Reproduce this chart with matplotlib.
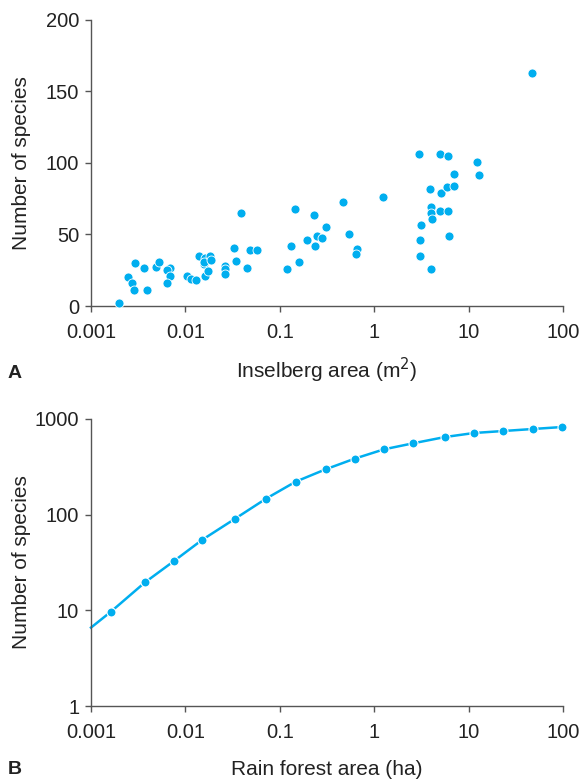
import matplotlib
matplotlib.use("Agg")
import matplotlib.pyplot as plt
from matplotlib.ticker import FixedLocator, FixedFormatter, NullLocator

plt.rcParams['font.family'] = ['Liberation Sans', 'DejaVu Sans']

# Panel A: inselberg area (m^2) vs number of species
inselberg_area = [0.00196, 0.00245, 0.0029, 0.00274, 0.00288, 0.00367, 0.00389, 0.00492,
                  0.0053, 0.00683, 0.00634, 0.00683, 0.00634, 0.0103, 0.0114, 0.0131,
                  0.0140, 0.0160, 0.0157, 0.0159, 0.0181, 0.0187, 0.0161, 0.0175,
                  0.0261, 0.0261, 0.0265, 0.033, 0.0343, 0.0385, 0.045, 0.048, 0.0569,
                  0.118, 0.130, 0.145, 0.160, 0.194, 0.230, 0.234, 0.249, 0.278, 0.308,
                  0.463, 0.544, 0.652, 0.646, 1.23, 2.98, 4.94, 6.01, 12.2, 7.0, 12.9,
                  3.93, 5.06, 5.90, 7.0, 3.96, 4.0, 4.06, 4.94, 6.01, 3.13, 6.19, 3.08,
                  3.03, 4.0, 46.6]
inselberg_species = [2.3, 20.2, 30.2, 15.8, 11.2, 26.7, 11.0, 27.4,
                     30.7, 26.7, 24.9, 21.2, 16.3, 20.7, 19.1, 18.4,
                     34.7, 33.3, 29.1, 30.7, 35.1, 32.1, 20.9, 24.2,
                     27.9, 25.6, 22.5, 40.3, 31.2, 64.7, 26.5, 38.9, 38.9,
                     25.8, 42.1, 67.5, 30.5, 46.3, 63.3, 41.7, 49.3, 47.9, 55.2,
                     72.8, 50.3, 39.6, 36.1, 75.9, 106.6, 106.1, 104.7, 100.5, 92.6, 91.9,
                     81.5, 78.7, 83.3, 84.0, 69.1, 64.9, 60.5, 66.1, 66.5, 56.3, 48.7, 45.9,
                     34.9, 26.0, 163.1]

# Panel B: rain forest area (ha) vs number of species
forest_area = [0.00163, 0.00373, 0.00752, 0.0150, 0.0333, 0.0715, 0.147, 0.306,
               0.621, 1.27, 2.58, 5.62, 11.4, 23.3, 47.8, 98.4]
forest_species = [9.7, 19.6, 32.6, 54.4, 90.2, 147, 221, 298,
                  385, 482, 557, 648, 714, 749, 786, 825]
curve_area = [0.001] + forest_area
curve_species = [6.6] + forest_species

xticks = [0.001, 0.01, 0.1, 1, 10, 100]
xtick_labels = ["0.001", "0.01", "0.1", "1", "10", "100"]
yticks_a = [0, 50, 100, 150, 200]
yticks_b = [1, 10, 100, 1000]
ytick_labels_b = ["1", "10", "100", "1000"]

blue = "#00AEEF"
axis_col = "#555555"
text_col = "#222222"
tick_fs = 14.5
label_fs = 15

fig = plt.figure(figsize=(5.82, 7.81), dpi=100)
ax1 = fig.add_axes([91/582, 1-306/781, 472/582, 286/781])
ax2 = fig.add_axes([91/582, 1-706/781, 472/582, 287/781])

def style(ax):
    for s in ["top", "right"]:
        ax.spines[s].set_visible(False)
    for s in ["left", "bottom"]:
        ax.spines[s].set_color(axis_col)
        ax.spines[s].set_linewidth(1.0)
    ax.tick_params(axis="both", which="major", direction="out", length=4.5,
                   width=1.0, color=axis_col, labelsize=tick_fs, labelcolor=text_col)
    ax.tick_params(axis="x", pad=8)
    ax.tick_params(axis="y", pad=4)

# Panel A
ax1.scatter(inselberg_area, inselberg_species, s=42, color=blue,
            edgecolors="white", linewidths=0.6, zorder=3, clip_on=False)
ax1.set_xscale("log")
ax1.set_xlim(0.001, 100)
ax1.set_ylim(0, 200)
style(ax1)
ax1.xaxis.set_major_locator(FixedLocator(xticks))
ax1.xaxis.set_major_formatter(FixedFormatter(xtick_labels))
ax1.xaxis.set_minor_locator(NullLocator())
ax1.set_yticks(yticks_a)
ax1.set_xlabel("Inselberg area (m$^2$)", fontsize=label_fs, color=text_col, labelpad=10)
ax1.set_ylabel("Number of species", fontsize=label_fs, color=text_col)
ax1.yaxis.set_label_coords(-0.127, 0.5)

# Panel B
ax2.plot(curve_area, curve_species, color=blue, lw=1.8, zorder=2, clip_on=False)
ax2.plot(forest_area, forest_species, "o", color=blue, markersize=6.5,
         markeredgecolor="white", markeredgewidth=0.8, zorder=3, clip_on=False)
ax2.set_xscale("log")
ax2.set_yscale("log")
ax2.set_xlim(0.001, 100)
ax2.set_ylim(1, 1000)
style(ax2)
ax2.xaxis.set_major_locator(FixedLocator(xticks))
ax2.xaxis.set_major_formatter(FixedFormatter(xtick_labels))
ax2.xaxis.set_minor_locator(NullLocator())
ax2.yaxis.set_major_locator(FixedLocator(yticks_b))
ax2.yaxis.set_major_formatter(FixedFormatter(ytick_labels_b))
ax2.yaxis.set_minor_locator(NullLocator())
ax2.set_xlabel("Rain forest area (ha)", fontsize=label_fs, color=text_col, labelpad=13)
ax2.set_ylabel("Number of species", fontsize=label_fs, color=text_col)
ax2.yaxis.set_label_coords(-0.127, 0.5)

fig.text(8/582, 1-373/781, "A", fontsize=14, fontweight="bold", va="center", ha="left", color=text_col)
fig.text(8/582, 1-770/781, "B", fontsize=14, fontweight="bold", va="center", ha="left", color=text_col)

fig.savefig("out.png", dpi=100)
